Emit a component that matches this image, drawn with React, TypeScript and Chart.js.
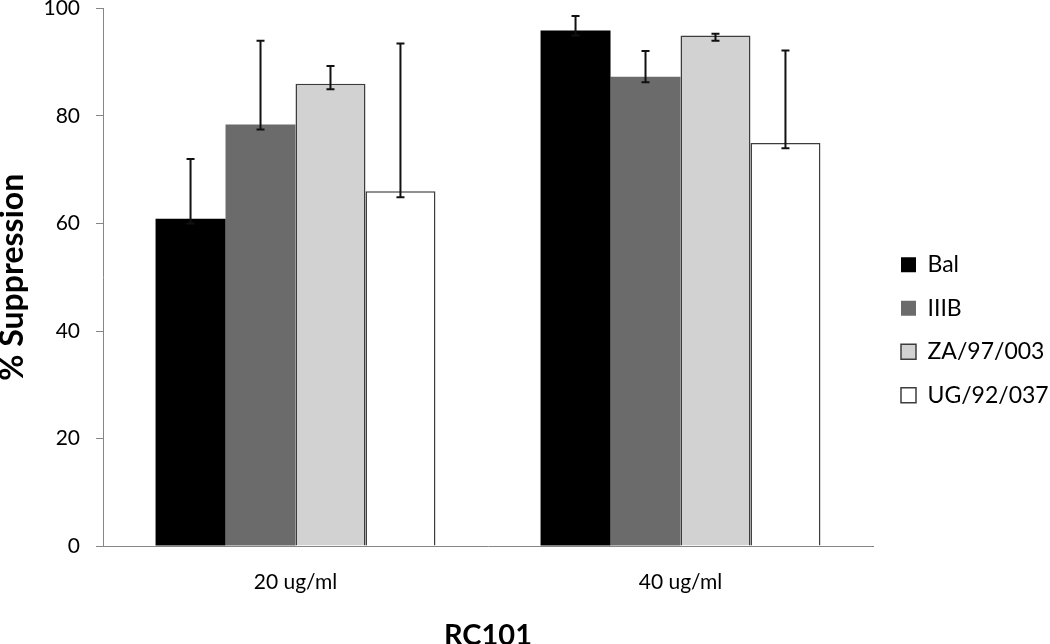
import React, { useEffect, useRef } from 'react';
import { Chart, registerables } from 'chart.js';

Chart.register(...registerables);

const categories = ['20 ug/ml', '40 ug/ml'];
const seriesNames = ['Bal', 'IIIB', 'ZA/97/003', 'UG/92/037'];

const balValues = [60.9, 95.9];
const iiibValues = [78.4, 87.3];
const zaValues = [86.0, 95.0];
const ugValues = [66.0, 75.0];

const balErrLow = [60.0, 95.0];
const balErrHigh = [72.0, 98.6];
const iiibErrLow = [77.5, 86.3];
const iiibErrHigh = [94.0, 92.1];
const zaErrLow = [85.0, 94.0];
const zaErrHigh = [89.3, 95.3];
const ugErrLow = [64.9, 74.0];
const ugErrHigh = [93.5, 92.2];

const yTicks = [0, 20, 40, 60, 80, 100];

const errLows = [balErrLow, iiibErrLow, zaErrLow, ugErrLow];
const errHighs = [balErrHigh, iiibErrHigh, zaErrHigh, ugErrHigh];

const FONT = 'Lato, "Open Sans", "DejaVu Sans", sans-serif';
const AXIS_GRAY = '#868686';

const errorBarPlugin = {
  id: 'errorBars',
  afterDatasetsDraw(chart: any) {
    const ctx = chart.ctx;
    const y = chart.scales.y;
    chart.data.datasets.forEach((_ds: any, i: number) => {
      const meta = chart.getDatasetMeta(i);
      meta.data.forEach((bar: any, j: number) => {
        const lo = y.getPixelForValue(errLows[i][j]);
        const hi = y.getPixelForValue(errHighs[i][j]);
        const x = bar.x;
        ctx.save();
        ctx.strokeStyle = '#111';
        ctx.lineWidth = 2;
        ctx.beginPath();
        ctx.moveTo(x, lo);
        ctx.lineTo(x, hi);
        ctx.moveTo(x - 4, hi);
        ctx.lineTo(x + 4, hi);
        ctx.moveTo(x - 4, lo);
        ctx.lineTo(x + 4, lo);
        ctx.stroke();
        ctx.restore();
      });
    });
  },
};

const legendFitPlugin = {
  id: 'legendFit',
  beforeLayout(chart: any) {
    const lg = chart.legend;
    if (lg && !lg.__patched) {
      const orig = lg.fit.bind(lg);
      lg.fit = function () {
        orig();
        this.width = 169.5;
      };
      lg.__patched = true;
    }
  },
};

export default function App() {
  const ref = useRef<HTMLCanvasElement | null>(null);

  useEffect(() => {
    if (!ref.current) return;
    const colors = ['#000000', '#6b6b6b', '#d2d2d2', '#ffffff'];
    const borders = ['#000000', '#6b6b6b', '#3c3c3c', '#3c3c3c'];
    const bw = [0, 0, 1.5, 1.5];
    const values = [balValues, iiibValues, zaValues, ugValues];
    const chart = new Chart(ref.current, {
      type: 'bar',
      data: {
        labels: categories,
        datasets: seriesNames.map((name, i) => ({
          label: name,
          data: values[i],
          backgroundColor: colors[i],
          borderColor: borders[i],
          borderWidth: bw[i],
          categoryPercentage: 0.727,
          barPercentage: 1.0,
        })),
      },
      options: {
        animation: false,
        responsive: false,
        maintainAspectRatio: false,
        layout: { padding: 0 },
        plugins: {
          tooltip: { enabled: false },
          legend: {
            display: true,
            position: 'right',
            align: 'center',
            title: { display: true, text: '', font: { size: 16, lineHeight: 1 }, padding: 0 },
            labels: {
              boxWidth: 15,
              boxHeight: 15,
              padding: 20.5,
              color: '#000',
              font: { family: FONT, size: 23 },
            },
          },
        },
        scales: {
          x: {
            offset: true,
            grid: { display: false, drawTicks: false },
            border: { display: true, color: AXIS_GRAY, width: 1 },
            ticks: { color: '#000', font: { family: FONT, size: 21 }, padding: 24 },
            title: {
              display: true,
              text: 'RC101',
              color: '#000',
              font: { family: FONT, size: 29, weight: 'bold', lineHeight: 1 },
              padding: { top: 0, bottom: -6 },
            },
            afterFit: (s: any) => {
              s.height = 98;
              s.paddingLeft = 0;
              s.paddingRight = 0;
            },
          },
          y: {
            min: 0,
            max: 100,
            afterBuildTicks: (s: any) => {
              s.ticks = yTicks.map((v) => ({ value: v }));
            },
            grid: { display: true, drawOnChartArea: false, drawTicks: true, tickLength: 7, color: AXIS_GRAY },
            border: { display: true, color: AXIS_GRAY, width: 1 },
            ticks: { color: '#000', font: { family: FONT, size: 21, lineHeight: 0.8 }, padding: 16 },
            title: {
              display: true,
              text: '% Suppression',
              color: '#000',
              font: { family: FONT, size: 32, weight: 'bold', lineHeight: 1 },
              padding: { top: -3, bottom: 0 },
            },
            afterFit: (s: any) => {
              s.width = 103;
              s.paddingTop = 8.5;
              s.paddingBottom = 0;
            },
          },
          yRight: {
            position: 'right',
            display: true,
            min: 0,
            max: 100,
            grid: { display: false, drawTicks: false },
            border: { display: false },
            ticks: { display: false },
            afterFit: (s: any) => {
              s.width = 7.5;
              s.paddingTop = 0;
              s.paddingBottom = 0;
            },
          },
        },
      } as any,
      plugins: [errorBarPlugin, legendFitPlugin],
    });
    return () => chart.destroy();
  }, []);

  return (
    <div style={{ position: 'absolute', left: 0, top: 0, width: 1050, height: 644, background: '#fff' }}>
      <canvas ref={ref} width={1050} height={644} style={{ display: 'block' }} />
    </div>
  );
}
